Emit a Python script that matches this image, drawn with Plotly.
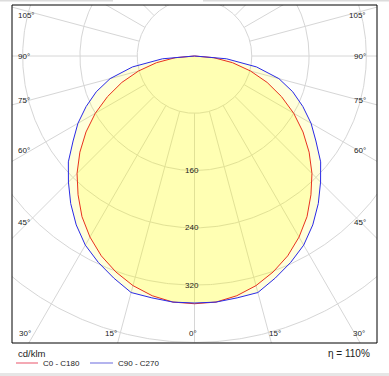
import numpy as np
import plotly.graph_objects as go

# ---- data (cd/klm) ----
angles = [0, 5, 10, 15, 20, 25, 30, 35, 40, 45, 50, 55, 60, 65, 70, 75, 80, 85, 90]
c0_c180 = [346, 345, 340, 332, 321, 308, 292, 274, 253, 232, 209, 185, 160, 134, 108, 81, 54, 27, 0]
c90_c270 = [345, 345, 343, 342, 330, 318, 305, 288, 269, 249, 230, 207, 188, 167, 146, 122, 88, 45, 0]
grid_radii = [80, 160, 240, 320, 400, 480]
radius_labels = [160, 240, 320]
angle_grid = [0, 15, 30, 45, 60, 75, 90, 105, 120, 135, 150, 165, 180]
left_labels = ["105°", "90°", "75°", "60°", "45°"]
bottom_labels = ["30°", "15°", "0°", "15°", "30°"]
unit_label = "cd/klm"
series_names = ["C0 - C180", "C90 - C270"]
eta_label = "η = 110%"

W, H = 389, 376
L, R, T, B = 12, 377, 5, 343          # frame in pixels
CX, CY = 194.5, 56.0                  # pole in pixels
S = 0.716                             # px per cd/klm


def px2paper(px, py):
    return (px - L) / (R - L), (B - py) / (B - T)


def curve(vals):
    a = np.radians(np.array(angles, dtype=float))
    v = np.array(vals, dtype=float)
    th = np.concatenate([-a[::-1], a[1:]])
    r = np.concatenate([v[::-1], v[1:]])
    return r * np.sin(th), -r * np.cos(th)


fig = go.Figure()

# grid circles
gx, gy = [], []
t = np.linspace(0, 2 * np.pi, 721)
for r in grid_radii:
    gx += list(r * np.cos(t)) + [None]
    gy += list(r * np.sin(t)) + [None]
# radial lines from first ring outward
for a in angle_grid:
    ar = np.radians(a)
    for sgn in (-1, 1):
        dx, dy = sgn * np.sin(ar), -np.cos(ar)
        gx += [grid_radii[0] * dx, 900 * dx, None]
        gy += [grid_radii[0] * dy, 900 * dy, None]
fig.add_trace(go.Scatter(x=gx, y=gy, mode="lines",
                         line=dict(color="#d6d6d6", width=1), hoverinfo="skip"))

rx, ry = curve(c0_c180)
bx, by = curve(c90_c270)

# fills
fig.add_trace(go.Scatter(x=bx, y=by, mode="lines", fill="toself",
                         fillcolor="rgba(255,255,0,0.14)", line=dict(width=0),
                         hoverinfo="skip"))
fig.add_trace(go.Scatter(x=rx, y=ry, mode="lines", fill="toself",
                         fillcolor="rgba(255,255,0,0.18)", line=dict(width=0),
                         hoverinfo="skip"))
# outlines
fig.add_trace(go.Scatter(x=rx, y=ry, mode="lines", name=series_names[0],
                         line=dict(color="#e8321e", width=1)))
fig.add_trace(go.Scatter(x=bx, y=by, mode="lines", name=series_names[1],
                         line=dict(color="#2a2ae6", width=1)))

xr = (R - CX) / S
fig.update_xaxes(range=[-(CX - L) / S, xr], visible=False, fixedrange=True)
fig.update_yaxes(range=[(CY - B) / S, (CY - T) / S], visible=False, fixedrange=True)

font = dict(family="Liberation Sans, Arial, sans-serif", size=8, color="#222222")
ann = []
# side angle labels
side_y = [15, 56, 100, 150, 222]
for lab, py in zip(left_labels, side_y):
    x0, y0 = px2paper(16, py)
    ann.append(dict(x=x0, y=y0, xref="paper", yref="paper", text=lab, showarrow=False,
                    xanchor="left", yanchor="middle", font=font))
    x1, _ = px2paper(368, py)
    ann.append(dict(x=x1, y=y0, xref="paper", yref="paper", text=lab, showarrow=False,
                    xanchor="right", yanchor="middle", font=font))
# bottom labels
bpos = [(17, "left"), (110.5, "center"), (193, "center"), (274.5, "center"), (367, "right")]
for lab, (px, anc) in zip(bottom_labels, bpos):
    x0, y0 = px2paper(px, 333)
    ann.append(dict(x=x0, y=y0, xref="paper", yref="paper", text=lab, showarrow=False,
                    xanchor=anc, yanchor="middle", font=font))
# radius labels
for r in radius_labels:
    ann.append(dict(x=-3.5, y=-r, xref="x", yref="y", text=str(r), showarrow=False,
                    xanchor="center", yanchor="middle", font=font))
# unit + legend + eta
x0, y0 = px2paper(16, 353)
ann.append(dict(x=x0, y=y0, xref="paper", yref="paper", text=unit_label, showarrow=False,
                xanchor="left", yanchor="middle",
                font=dict(family=font["family"], size=9.5, color="#222")))
x0, y0 = px2paper(41, 363.5)
ann.append(dict(x=x0, y=y0, xref="paper", yref="paper", text=series_names[0], showarrow=False,
                xanchor="left", yanchor="middle", font=font))
x0, y0 = px2paper(116, 363.5)
ann.append(dict(x=x0, y=y0, xref="paper", yref="paper", text=series_names[1], showarrow=False,
                xanchor="left", yanchor="middle", font=font))
x0, y0 = px2paper(372, 353)
ann.append(dict(x=x0, y=y0, xref="paper", yref="paper", text=eta_label, showarrow=False,
                xanchor="right", yanchor="middle",
                font=dict(family=font["family"], size=10, color="#222")))

shapes = []
# frame
shapes.append(dict(type="rect", xref="paper", yref="paper", x0=0, y0=0, x1=1, y1=1,
                   line=dict(color="black", width=1), layer="above"))
# legend samples
for (pa, pb), col in [((16, 38), "#f4a9b4"), ((90, 113), "#b4b4ee")]:
    xa, ya = px2paper(pa, 363)
    xb, _ = px2paper(pb, 363)
    shapes.append(dict(type="line", xref="paper", yref="paper", x0=xa, x1=xb, y0=ya, y1=ya,
                       line=dict(color=col, width=2)))
# thin grey strips at page edges
for (xa, xb, ya, yb, col) in [(0, 113, 0, 1.5, "#dcdcdc"), (203, 389, 0, 1.5, "#dcdcdc"),
                              (0, 389, 373, 376, "#e6e6e6")]:
    p0 = px2paper(xa, yb)
    p1 = px2paper(xb, ya)
    shapes.append(dict(type="rect", xref="paper", yref="paper", x0=p0[0], y0=p0[1],
                       x1=p1[0], y1=p1[1], line=dict(width=0), fillcolor=col))

fig.update_layout(width=W, height=H, margin=dict(l=L, r=W - R, t=T, b=H - B),
                  plot_bgcolor="white", paper_bgcolor="white", showlegend=False,
                  annotations=ann, shapes=shapes, hovermode=False)

fig.write_html("out.html", config={"displayModeBar": False, "staticPlot": True},
               post_script="document.body.style.margin='0';document.body.style.overflow='hidden';")
